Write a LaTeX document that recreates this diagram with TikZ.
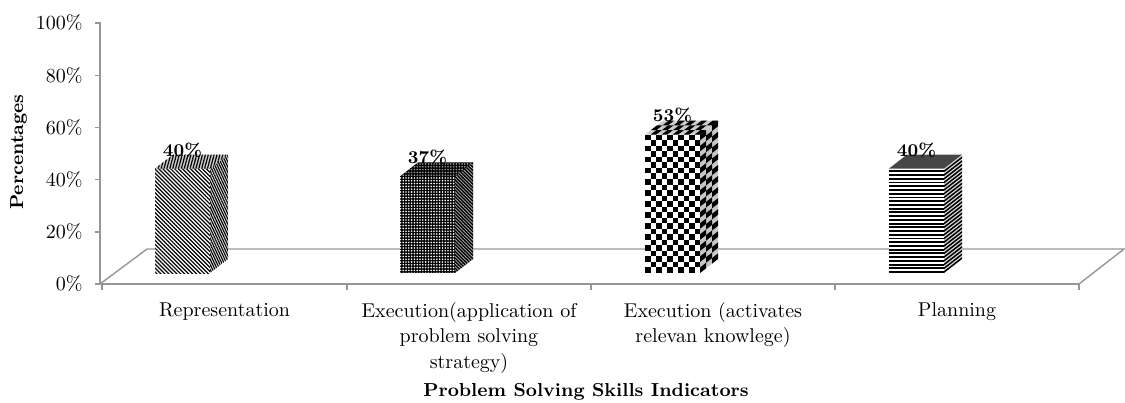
\documentclass[tikz,border=0pt]{standalone}
\usepackage{tikz}
\usetikzlibrary{patterns.meta}

\definecolor{axisgray}{RGB}{150,150,150}

\begin{document}
\begin{tikzpicture}[x=0.5pt,y=-0.5pt,
    axisline/.style={draw=axisgray,line width=0.7pt},
    ticklabel/.style={anchor=east,inner sep=0pt,font=\fontsize{10}{12}\selectfont},
    catlabel/.style={anchor=north,align=center,inner sep=0pt,font=\fontsize{10}{12.75}\selectfont},
    vallabel/.style={anchor=base,inner sep=0pt,font=\bfseries\fontsize{9}{10}\selectfont},
    titlelabel/.style={inner sep=0pt,font=\bfseries\fontsize{9.4}{11}\selectfont},
    hatchfront/.style={preaction={fill=white},pattern={Lines[angle=-45,distance=1.4pt,line width=0.6pt]}},
    hatchside/.style={preaction={fill=gray!30},pattern={Lines[angle=-65,distance=1.1pt,line width=0.55pt]}},
    hatchtop/.style={preaction={fill=gray!40},pattern={Lines[angle=75,distance=1.4pt,line width=0.6pt]}},
    dotfront/.style={preaction={fill=black},pattern={Dots[distance=1.4pt,radius=0.45pt]},pattern color=white},
    dotside/.style={preaction={fill=black},pattern={Lines[angle=-45,distance=1.2pt,line width=0.4pt]},pattern color=gray!70},
    dottop/.style={preaction={fill=black},pattern={Dots[distance=1.4pt,radius=0.45pt]},pattern color=gray!80}]
  \useasboundingbox (0,0) rectangle (1125,402);

  % floor and axes
  \coordinate (fl) at (100,284);
  \coordinate (fr) at (1079,284);
  \coordinate (bl) at (147,249);
  \coordinate (br) at (1124,249);
  \coordinate (ytop) at (100,22);
  \draw[axisline] (fl) -- (bl) -- (br) -- (fr);
  \draw[axisline] (ytop) -- (fl) -- (fr);
  \foreach \v in {0,20,...,100} {
    \draw[axisline] (95,{284-2.61*\v}) -- (100,{284-2.61*\v});
    \node[ticklabel] (y\v) at (83,{284-2.61*\v}) {\v\%};
  }
  \foreach \x in {102,347,591,835,1079}
    \draw[axisline] (\x,284) -- (\x,290);

  % Representation
  \fill[hatchfront] (155,273) rectangle (210,168.6);
  \fill[hatchside] (210,273) -- (228,259) -- (228,154.6) -- (210,168.6) -- cycle;
  \fill[hatchtop] (155,168.6) -- (210,168.6) -- (228,154.6) -- (173,154.6) -- cycle;

  % Execution (application ...)
  \fill[dotfront] (400,273) rectangle (455,176.4);
  \fill[dotside] (455,273) -- (473,259) -- (473,162.4) -- (455,176.4) -- cycle;
  \fill[dottop] (400,176.4) -- (455,176.4) -- (473,162.4) -- (418,162.4) -- cycle;

  % Execution (activates ...)
  \fill[white] (645,273) rectangle (700,134.7);
  \fill[gray!45] (700,273) -- (718,259) -- (718,120.7) -- (700,134.7) -- cycle;
  \fill[gray!40] (645,134.7) -- (700,134.7) -- (718,120.7) -- (663,120.7) -- cycle;
  \foreach \i in {0,...,9}
    \foreach \j in {0,...,24} {
      \pgfmathtruncatemacro\odd{mod(\i+\j,2)}
      \ifnum\odd=0 \fill (645+5.5*\i,273-5.53*\j) rectangle ++(5.5,-5.53); \fi
    }
  \foreach \i in {0,1,2}
    \foreach \j in {0,...,24} {
      \pgfmathtruncatemacro\odd{mod(\i+\j,2)}
      \ifnum\odd=0 \fill (700+6*\i,273-4.667*\i-5.53*\j) -- ++(6,-4.667) -- ++(0,-5.53) -- ++(-6,4.667) -- cycle; \fi
    }
  \foreach \i in {0,...,9}
    \foreach \j in {0,1,2} {
      \pgfmathtruncatemacro\odd{mod(\i+\j+1,2)}
      \ifnum\odd=0 \fill (645+5.5*\i+6*\j,134.7-4.667*\j) -- ++(5.5,0) -- ++(6,-4.667) -- ++(-5.5,0) -- cycle; \fi
    }

  % Planning
  \fill[white] (889,273) rectangle (944,168.6);
  \fill[gray!30] (944,273) -- (962,259) -- (962,154.6) -- (944,168.6) -- cycle;
  \fill[gray!55!black] (889,168.6) -- (944,168.6) -- (962,154.6) -- (907,154.6) -- cycle;
  \foreach \k in {0,...,27} {
    \fill (889,273-3.73*\k) rectangle ++(55,-1.9);
    \fill (944,273-3.73*\k) -- ++(18,-14) -- ++(0,-1.9) -- ++(-18,14) -- cycle;
  }

  % value labels
  \node[vallabel] (v1) at (182.5,156) {40\%};
  \node[vallabel] (v2) at (427.5,163.5) {37\%};
  \node[vallabel] (v3) at (672.5,121.5) {53\%};
  \node[vallabel] (v4) at (916.5,156) {40\%};

  % category labels
  \node[catlabel] (c1) at (224.5,302) {Representation};
  \node[catlabel] (c2) at (469,302) {Execution(application of\\problem solving\\strategy)};
  \node[catlabel] (c3) at (713,302) {Execution (activates\\relevan knowlege)};
  \node[catlabel] (c4) at (957,302) {Planning};

  \node[titlelabel,rotate=90] (ytitle) at (18.5,152) {Percentages};
  \node[titlelabel] (xtitle) at (586,392) {Problem Solving Skills Indicators};
\end{tikzpicture}
\end{document}
